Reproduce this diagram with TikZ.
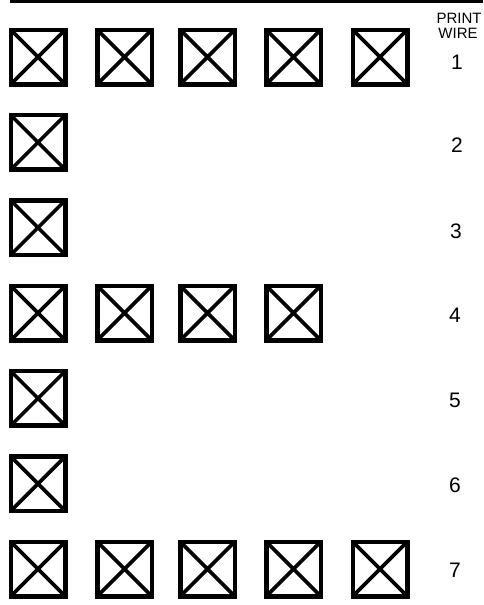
\documentclass[tikz,border=0pt]{standalone}
\usepackage{fontspec}
\setmainfont{Liberation Sans}
\begin{document}
\begin{tikzpicture}[x=1pt,y=-1pt,
  xbox/.style={draw=black, line width=4.5pt, minimum size=54.5pt, inner sep=0pt,
    path picture={\draw[line width=3.6pt] (path picture bounding box.north west) -- (path picture bounding box.south east)
      (path picture bounding box.north east) -- (path picture bounding box.south west);}},
  wirenum/.style={font=\fontsize{21}{21}\selectfont, inner sep=0pt},
  headtxt/.style={font=\fontsize{15}{15}\selectfont, inner sep=0pt}]
\useasboundingbox (0,0) rectangle (483,605);
\fill[white] (0,0) rectangle (483,605);
\coordinate (tl) at (10,1.5);
\coordinate (tr) at (483,1.5);
\draw[line width=2.2pt] (tl) -- (tr);
% columns
\def\ca{38}\def\cb{124.5}\def\cc{207.5}\def\cd{293.5}\def\ce{380}
% row 1
\node[xbox] (r1a) at (\ca,57) {};
\node[xbox] (r1b) at (\cb,57) {};
\node[xbox] (r1c) at (\cc,57) {};
\node[xbox] (r1d) at (\cd,57) {};
\node[xbox] (r1e) at (\ce,57) {};
% row 2
\node[xbox] (r2a) at (\ca,142.3) {};
% row 3
\node[xbox] (r3a) at (\ca,227.7) {};
% row 4
\node[xbox] (r4a) at (\ca,313) {};
\node[xbox] (r4b) at (\cb,313) {};
\node[xbox] (r4c) at (\cc,313) {};
\node[xbox] (r4d) at (\cd,313) {};
% row 5
\node[xbox] (r5a) at (\ca,398.3) {};
% row 6
\node[xbox] (r6a) at (\ca,483.7) {};
% row 7
\node[xbox] (r7a) at (\ca,569) {};
\node[xbox] (r7b) at (\cb,569) {};
\node[xbox] (r7c) at (\cc,569) {};
\node[xbox] (r7d) at (\cd,569) {};
\node[xbox] (r7e) at (\ce,569) {};
% labels
\node[headtxt] (hp) at (459,18) {PRINT};
\node[headtxt] (hw) at (458,33) {WIRE};
\node[wirenum] (n1) at (457,62) {1};
\node[wirenum] (n2) at (457,145.5) {2};
\node[wirenum] (n3) at (456,231) {3};
\node[wirenum] (n4) at (455,315) {4};
\node[wirenum] (n5) at (455,400) {5};
\node[wirenum] (n6) at (455,485) {6};
\node[wirenum] (n7) at (455,570) {7};
\end{tikzpicture}
\end{document}
